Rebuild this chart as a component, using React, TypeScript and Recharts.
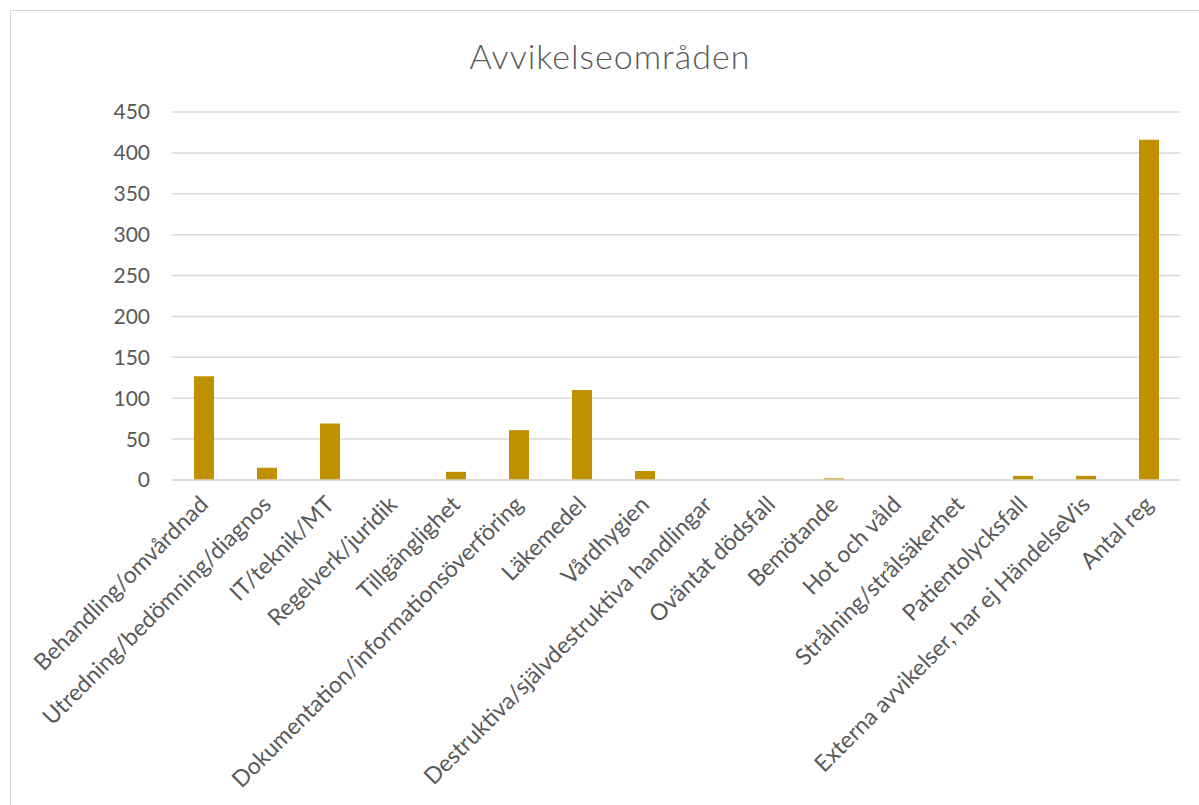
import { BarChart, Bar, XAxis, YAxis, CartesianGrid } from 'recharts'

const categories = [
  'Behandling/omvårdnad',
  'Utredning/bedömning/diagnos',
  'IT/teknik/MT',
  'Regelverk/juridik',
  'Tillgänglighet',
  'Dokumentation/informationsöverföring',
  'Läkemedel',
  'Vårdhygien',
  'Destruktiva/självdestruktiva handlingar',
  'Oväntat dödsfall',
  'Bemötande',
  'Hot och våld',
  'Strålning/strålsäkerhet',
  'Patientolycksfall',
  'Externa avvikelser, har ej HändelseVis',
  'Antal reg',
]
const counts = [127, 15, 69, 0, 10, 61, 110, 11, 0, 0, 2, 0, 0, 5, 5, 416]
const yTicks = [0, 50, 100, 150, 200, 250, 300, 350, 400, 450]

const data = categories.map((name, i) => ({ name, count: counts[i] }))

const FONT = 'Lato, "Open Sans", sans-serif'
const TEXT = '#595959'

function AngledTick(props: any) {
  const { x, y, payload } = props
  return (
    <g transform={`translate(${x + 6},${y + 18})`}>
      <text
        x={0}
        y={0}
        textAnchor="end"
        transform="rotate(-45)"
        fill={TEXT}
        fontSize={23}
        fontFamily={FONT}
      >
        {payload.value}
      </text>
    </g>
  )
}

export default function App() {
  return (
    <div style={{ position: 'absolute', left: 0, top: 0, width: 1199, height: 805, background: '#fff', overflow: 'hidden' }}>
      <div
        style={{
          position: 'absolute',
          left: 10,
          top: 10,
          width: 1220,
          height: 820,
          border: '1px solid #d9d9d9',
          boxSizing: 'border-box',
        }}
      />
      <div
        style={{
          position: 'absolute',
          left: 0,
          top: 35,
          width: 1220,
          textAlign: 'center',
          fontFamily: FONT,
          fontWeight: 300,
          fontSize: 34,
          letterSpacing: 1,
          color: TEXT,
        }}
      >
        Avvikelseområden
      </div>
      <div style={{ position: 'absolute', left: 0, top: 0 }}>
        <BarChart
          width={1199}
          height={805}
          data={data}
          margin={{ top: 112, right: 19, left: 0, bottom: 0 }}
          barSize={20}
        >
          <CartesianGrid vertical={false} stroke="#d9d9d9" strokeWidth={1.5} />
          <XAxis
            dataKey="name"
            interval={0}
            height={325}
            tick={<AngledTick />}
            tickLine={false}
            axisLine={{ stroke: '#d9d9d9', strokeWidth: 1.5 }}
          />
          <YAxis
            width={172}
            domain={[0, 450]}
            ticks={yTicks}
            tickLine={false}
            axisLine={false}
            tickMargin={16}
            tick={{ fill: TEXT, fontSize: 21, fontFamily: FONT }}
          />
          <Bar dataKey="count" fill="#bf9000" isAnimationActive={false} />
        </BarChart>
      </div>
    </div>
  )
}
